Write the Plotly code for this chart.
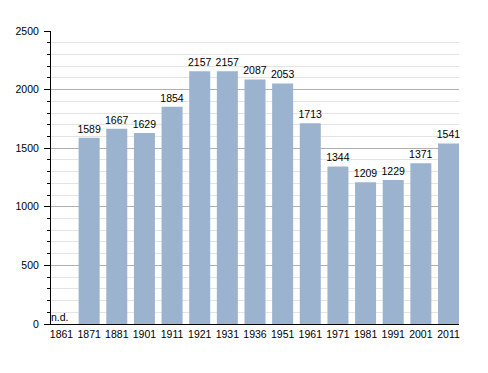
import plotly.graph_objects as go

years = ["1861", "1871", "1881", "1901", "1911", "1921", "1931", "1936", "1951", "1961", "1971", "1981", "1991", "2001", "2011"]
population = [None, 1589, 1667, 1629, 1854, 2157, 2157, 2087, 2053, 1713, 1344, 1209, 1229, 1371, 1541]
labels = ["" if v is None else str(v) for v in population]
missing_label = "n.d."

FONT = "Liberation Sans, Arial, sans-serif"
FS = 10.5
BAR_W = 0.76

fig = go.Figure()
fig.add_trace(go.Bar(
    x=years, y=population, text=labels, textposition="outside",
    textfont=dict(size=FS, color="#000000", family=FONT),
    marker=dict(color="#9bb3ce", line=dict(width=0)),
    cliponaxis=False, width=BAR_W,
))
for i, v in enumerate(population):
    if v is None:
        fig.add_annotation(x=i, y=0, text=missing_label, showarrow=False, yanchor="bottom",
                           xshift=-1.5, yshift=-1,
                           font=dict(size=FS, color="#000000", family=FONT))

fig.update_layout(
    width=488, height=373,
    margin=dict(l=51, r=29, t=31, b=49, pad=0, autoexpand=False),
    plot_bgcolor="white", paper_bgcolor="white",
    showlegend=False,
    font=dict(family=FONT, size=FS, color="#000000"),
    uniformtext=dict(minsize=FS, mode="show"),
)
fig.update_yaxes(
    range=[0, 2500], tickvals=[0, 500, 1000, 1500, 2000, 2500],
    showgrid=True, gridcolor="#b0b0b0", gridwidth=1,
    minor=dict(dtick=100, showgrid=True, gridcolor="#e4e4e4", ticks="outside", ticklen=3, tickcolor="#000000"),
    ticks="outside", ticklen=6, tickcolor="#000000",
    showline=True, linecolor="#000000", linewidth=1,
    zeroline=False, ticklabelstandoff=3, automargin=False,
    tickfont=dict(size=FS),
)
fig.update_xaxes(
    type="category", categoryorder="array", categoryarray=years,
    range=[-BAR_W / 2, len(years) - 1 + BAR_W / 2],
    showline=True, linecolor="#000000", linewidth=1,
    ticks="", showgrid=False, automargin=False,
    tickfont=dict(size=FS),
)
fig.write_html("out.html", config={"displayModeBar": False})

with open("out.html", "r", encoding="utf-8") as f:
    html = f.read()
html = html.replace("<body>", '<body style="margin:0;padding:0;">', 1)
with open("out.html", "w", encoding="utf-8") as f:
    f.write(html)
